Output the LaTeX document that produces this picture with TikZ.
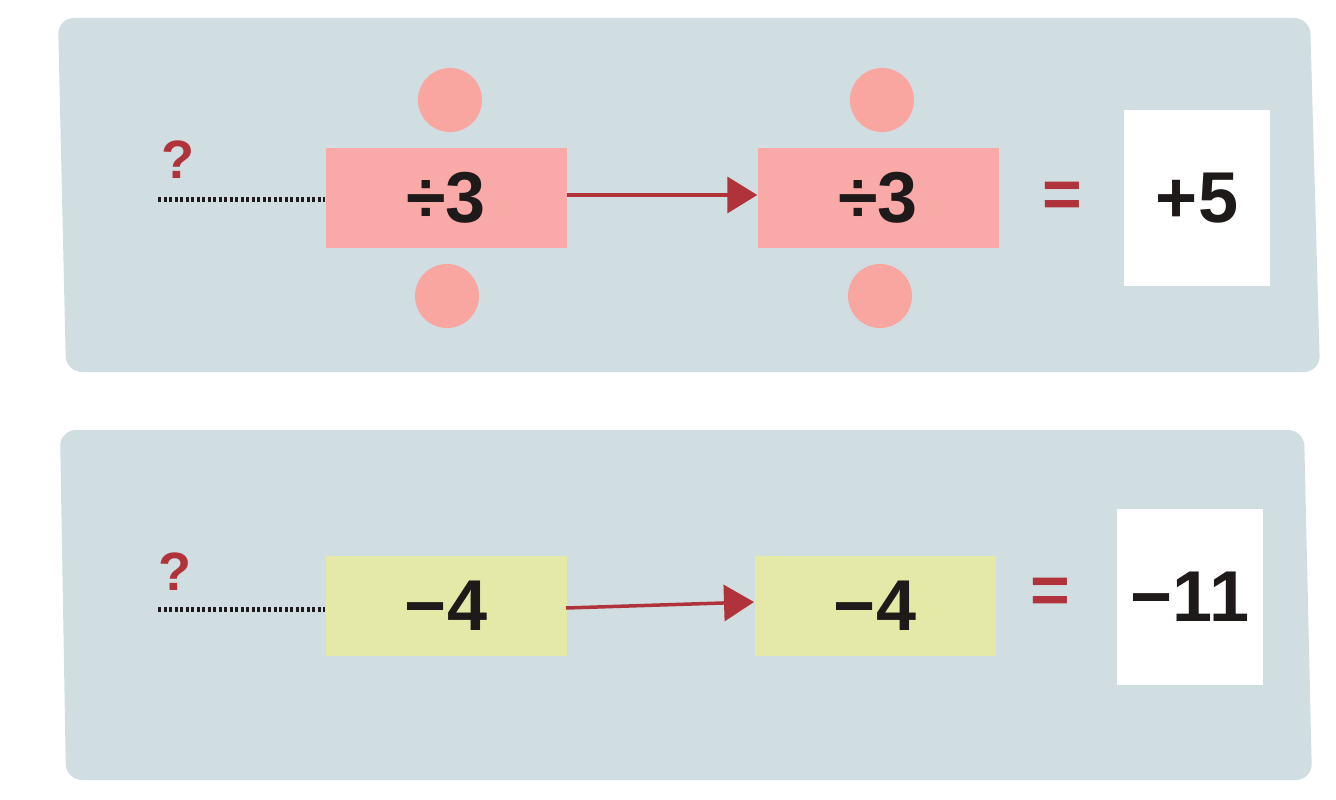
\documentclass[tikz,border=0pt]{standalone}
\usepackage{fontspec}
\setmainfont{Liberation Sans}
\usetikzlibrary{arrows.meta}
\definecolor{panel}{HTML}{D0DEE2}
\definecolor{pinkc}{HTML}{F9A9A8}
\definecolor{circ}{HTML}{F9A5A0}
\definecolor{yel}{HTML}{E4E9A8}
\definecolor{dred}{HTML}{B0323A}
\definecolor{ink}{HTML}{1E1A1A}
\begin{document}
\begin{tikzpicture}[x=1pt,y=-1pt,
  big/.style={font=\fontsize{72}{74}\selectfont\bfseries,text=ink},
  op/.style={big,minimum width=241pt,minimum height=100pt,inner sep=0pt},
  res/.style={big,fill=white,minimum width=146pt,minimum height=176pt,inner sep=0pt},
  dot/.style={circle,fill=circ,minimum width=62pt,minimum height=64pt,inner sep=0pt},
  q/.style={font=\fontsize{54}{56}\selectfont\bfseries,text=dred},
  eq/.style={font=\fontsize{68}{70}\selectfont\bfseries,text=dred},
  dotted line/.style={ink,line width=5pt,dash pattern=on 3pt off 2.5pt},
  arr/.style={dred,line width=3.5pt,-{Triangle[length=30pt,width=36pt]}}]
\useasboundingbox (0,0) rectangle (1336,800);
\fill[panel,rounded corners=16pt] (58,18) -- (1310,18) -- (1320,372) -- (66,372) -- cycle;
\fill[panel,rounded corners=16pt] (60,430) -- (1304,430) -- (1312,780) -- (66,780) -- cycle;
% top row
\node[q] (q1) at (178,160) {?};
\coordinate (s1) at (158,199);
\node[op,fill=pinkc] (a1) at (446,198) {÷3};
\node[op,fill=pinkc] (b1) at (878,198) {÷3};
\node[dot] (c1) at (450,100) {};
\node[dot] (c2) at (447,296) {};
\node[dot] (c3) at (882,100) {};
\node[dot] (c4) at (880,296) {};
\node[eq] (e1) at (1062,200) {=};
\node[res] (r1) at (1197,198) {+5};
\draw[dotted line] (s1) -- (a1.west |- s1);
\draw[arr] (a1.east |- 0,195) -- (b1.west |- 0,195);
% bottom row
\node[q] (q2) at (175,572) {?};
\coordinate (s2) at (158,609);
\node[op,fill=yel] (a2) at (446,606) {−4};
\node[op,fill=yel] (b2) at (875,606) {−4};
\node[eq] (e2) at (1050,596) {=};
\node[res] (r2) at (1190,597) {−11};
\draw[dotted line] (s2) -- (a2.west |- s2);
\draw[arr] (566,608) -- (754,602);
\end{tikzpicture}
\end{document}
